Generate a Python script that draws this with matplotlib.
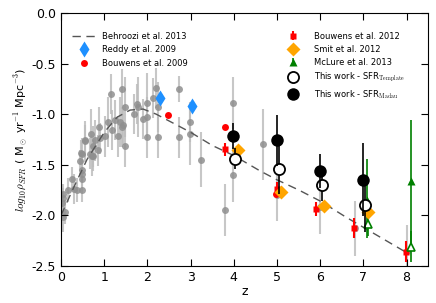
import matplotlib
matplotlib.use('Agg')
import matplotlib.pyplot as plt

plt.rcParams['axes.unicode_minus'] = False
plt.rcParams['mathtext.fontset'] = 'cm'

# Behroozi et al. 2013 relation
behroozi_z = [0, 0.3, 0.6, 1.0, 1.3, 1.6, 1.9, 2.2, 2.6, 3.0, 3.5, 4.0, 4.6, 5.0, 5.5, 6.0, 6.6, 7.2, 8.0]
behroozi_sfr = [-2.0, -1.72, -1.45, -1.18, -1.03, -0.96, -0.95, -1.0, -1.09, -1.18, -1.31, -1.41, -1.56,
                -1.65, -1.75, -1.86, -2.02, -2.17, -2.37]

# compilation (grey)
grey_z = [0.02, 0.05, 0.09, 0.05, 0.05, 0.17, 0.25, 0.29, 0.36, 0.48, 0.48, 0.48, 0.48, 0.44, 0.48, 0.47,
          0.55, 0.56, 0.67, 0.71, 0.75, 0.70, 0.74, 0.78, 0.86, 0.87, 0.90, 1.01, 1.09, 1.16, 1.17, 1.24,
          1.32, 1.36, 1.40, 1.40, 1.44, 1.48, 1.47, 1.69, 1.75, 1.79, 1.89, 1.98, 2.00, 1.98, 2.14, 2.19,
          2.24, 2.24, 2.74, 2.74, 2.99, 2.99, 3.24, 3.80, 3.99, 3.99, 4.68, 5.00, 6.00, 6.80, 8.00]
grey_sfr = [-1.88, -1.83, -1.97, -2.02, -1.79, -1.75, -1.64, -1.74, -1.75, -1.75, -1.59, -1.64, -1.55,
            -1.46, -1.39, -1.38, -1.27, -1.26, -1.39, -1.41, -1.41, -1.20, -1.32, -1.26, -1.36, -1.13,
            -1.24, -1.22, -1.08, -0.80, -1.16, -1.06, -1.22, -1.08, -1.13, -0.75, -1.11, -0.93, -1.32,
            -1.00, -0.90, -0.93, -1.05, -0.89, -1.03, -1.23, -0.84, -0.74, -0.93, -1.23, -0.75, -1.23,
            -1.08, -1.20, -1.45, -1.95, -0.89, -1.60, -1.30, -1.80, -1.92, -2.13, -2.35]
grey_err = [0.12, 0.1, 0.12, 0.15, 0.1, 0.12, 0.12, 0.15, 0.12, 0.12, 0.1, 0.1, 0.12, 0.1, 0.15, 0.12,
            0.2, 0.15, 0.15, 0.2, 0.15, 0.25, 0.2, 0.2, 0.15, 0.2, 0.15, 0.2, 0.25, 0.2, 0.2, 0.2,
            0.2, 0.25, 0.2, 0.2, 0.2, 0.3, 0.2, 0.2, 0.2, 0.3, 0.2, 0.3, 0.2, 0.2, 0.2, 0.2,
            0.25, 0.2, 0.13, 0.2, 0.2, 0.3, 0.27, 0.26, 0.26, 0.27, 0.35, 0.26, 0.27, 0.27, 0.25]

reddy_z = [2.29, 3.04]
reddy_sfr = [-0.84, -0.92]

bouwens09_z = [2.48, 3.80, 4.97]
bouwens09_sfr = [-1.01, -1.13, -1.79]

bouwens12_z = [3.80, 4.99, 5.90, 6.78, 7.99]
bouwens12_sfr = [-1.35, -1.74, -1.94, -2.13, -2.36]
bouwens12_err = [0.06, 0.07, 0.07, 0.1, 0.1]

smit_z = [4.10, 5.09, 6.09, 7.10]
smit_sfr = [-1.36, -1.77, -1.91, -1.97]

mclure_z = [7.09, 8.10]
mclure_sfr = [-1.85, -1.66]
mclure_lo = [0.38, 0.65]
mclure_hi = [0.41, 0.60]
mclure_open_z = [7.10, 8.10]
mclure_open_sfr = [-2.09, -2.31]
mclure_open_err = [0.12, 0.15]

template_z = [4.03, 5.05, 6.04, 7.04]
template_sfr = [-1.44, -1.54, -1.70, -1.90]
template_err = [0.1, 0.25, 0.16, 0.27]

madau_z = [3.99, 5.01, 6.00, 6.99]
madau_sfr = [-1.22, -1.26, -1.56, -1.65]
madau_err = [0.13, 0.25, 0.17, 0.36]

fig = plt.figure(figsize=(4.36, 3.03), dpi=100)
ax = fig.add_axes([0.14, 0.123, 0.842, 0.834])

ax.errorbar(grey_z, grey_sfr, yerr=grey_err, fmt='o', color='#8f8f8f', ecolor='#bdbdbd',
            ms=5, mec='none', alpha=0.85, elinewidth=1.5, capsize=0, zorder=1)
l1, = ax.plot(behroozi_z, behroozi_sfr, '--', color='#555555', lw=1, dashes=(6, 4), zorder=2,
              label='Behroozi et al. 2013')
l2 = ax.errorbar(reddy_z, reddy_sfr, fmt='d', color='#1e90ff', ms=8, mec='none', zorder=3,
                 label='Reddy et al. 2009')
l3 = ax.errorbar(bouwens09_z, bouwens09_sfr, fmt='o', color='red', ms=5, mec='none', zorder=3,
                 label='Bouwens et al. 2009')
r1 = ax.errorbar(bouwens12_z, bouwens12_sfr, yerr=bouwens12_err, fmt='s', color='red', ms=5,
                 mec='none', elinewidth=1.5, capsize=0, zorder=4, label='Bouwens et al. 2012')
r2 = ax.errorbar(smit_z, smit_sfr, fmt='D', color='orange', ms=7, mec='none', zorder=6,
                 label='Smit et al. 2012')
ax.errorbar(mclure_open_z, mclure_open_sfr, yerr=mclure_open_err, fmt='^', color='green', mfc='white',
            mec='green', mew=1.2, ms=6, elinewidth=1.2, capsize=0, zorder=5)
r3 = ax.errorbar(mclure_z, mclure_sfr, yerr=[mclure_lo, mclure_hi], fmt='^', color='green', ms=6,
                 mec='none', elinewidth=1.2, capsize=0, zorder=5, label='McLure et al. 2013')
r4 = ax.errorbar(template_z, template_sfr, yerr=template_err, fmt='o', color='black', mfc='white',
                 mec='black', mew=1.3, ms=8, elinewidth=1.2, capsize=0, zorder=7,
                 label=r'This work - SFR$_{\rm Template}$')
r5 = ax.errorbar(madau_z, madau_sfr, yerr=madau_err, fmt='o', color='black', ms=9, mec='none',
                 elinewidth=1.2, capsize=0, zorder=8, label=r'This work - SFR$_{\rm Madau}$')

ax.set_xlim(0, 8.5)
ax.set_ylim(-2.5, 0.0)
ax.set_xticks(range(0, 9))
ax.set_yticks([-2.5, -2.0, -1.5, -1.0, -0.5, 0.0])
ax.set_yticklabels(['-2.5', '-2.0', '-1.5', '-1.0', '-0.5', '0.0'])
ax.tick_params(direction='in', top=True, right=True, length=5, labelsize=9)
ax.set_xlabel('z', fontsize=9, labelpad=1)
ax.set_ylabel(r'$log_{10}\rho_{SFR}$ ( M$_\odot$ yr$^{-1}$ Mpc$^{-3}$)', fontsize=8, labelpad=2)

leg1 = ax.legend(handles=[l1, l2, l3], loc='upper left', bbox_to_anchor=(0.02, 0.94), frameon=False,
                 fontsize=6, handlelength=3, numpoints=1, borderaxespad=0, handletextpad=0.6,
                 labelspacing=0.55)
ax.add_artist(leg1)
ax.legend(handles=[r1, r2, r3, r4, r5], loc='upper left', bbox_to_anchor=(0.6, 0.94), frameon=False,
          fontsize=6, numpoints=1, borderaxespad=0, handletextpad=1.5, labelspacing=0.5)

fig.savefig('out.png', dpi=100)
